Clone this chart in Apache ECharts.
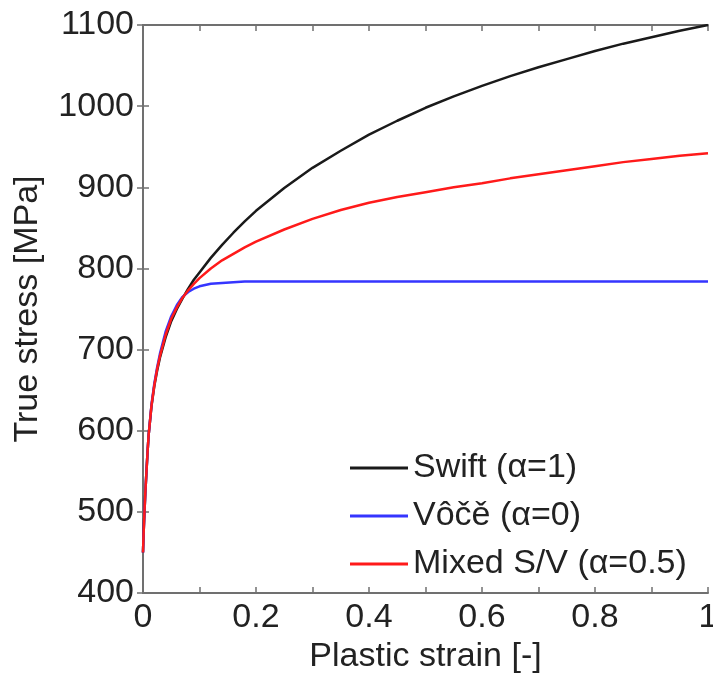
<!DOCTYPE html>
<html>
<head>
<meta charset="utf-8">
<script src="https://cdn.jsdelivr.net/npm/echarts@6/dist/echarts.min.js"></script>
<style>
html,body{margin:0;padding:0;background:#fff;}
#chart{width:713px;height:677px;}
</style>
</head>
<body>
<div id="chart"></div>
<script>
// Plastic strain values (x)
const strain = [0, 0.001, 0.002, 0.004, 0.006, 0.008, 0.01, 0.015, 0.02, 0.025, 0.03, 0.04, 0.05, 0.06, 0.07, 0.08, 0.09, 0.1, 0.12, 0.14, 0.16, 0.18, 0.2, 0.25, 0.3, 0.35, 0.4, 0.45, 0.5, 0.55, 0.6, 0.65, 0.7, 0.75, 0.8, 0.85, 0.9, 0.95, 1.0];
// True stress [MPa]
const swift = [450, 472, 490, 522, 548, 573, 595, 630, 655, 674, 690, 715, 735, 750, 763, 775, 786, 795, 813, 829, 844, 858, 871, 899, 924, 945, 965, 982, 998, 1012, 1025, 1037, 1048, 1058, 1068, 1077, 1085, 1093, 1100];
const voce  = [450, 472, 490, 522, 548, 573, 595, 632, 658, 678, 695, 722, 741, 755, 765, 771, 775, 778, 781, 782, 783, 784, 784, 784, 784, 784, 784, 784, 784, 784, 784, 784, 784, 784, 784, 784, 784, 784, 784];
const mixed = [450, 472, 490, 522, 548, 573, 595, 631, 656, 676, 692, 718, 738, 752, 764, 773, 781, 788, 800, 810, 818, 826, 833, 848, 861, 872, 881, 888, 894, 900, 905, 911, 916, 921, 926, 931, 935, 939, 942];
const seriesNames = ['Swift (α=1)', 'Vôčě (α=0)', 'Mixed S/V (α=0.5)'];
const seriesColors = ['#1a1a1a', '#3535ff', '#ff1a1a'];
const xTickLabels = ['0', '0.2', '0.4', '0.6', '0.8', '1'];
const yTickLabels = ['400', '500', '600', '700', '800', '900', '1000', '1100'];

const font = 'Liberation Sans, Arial, sans-serif';
const axisColor = '#707070';
const textColor = '#222';
const fs = 34;

function pairs(xs, ys) { return xs.map((x, i) => [x, ys[i]]); }

const chart = echarts.init(document.getElementById('chart'), null, {renderer: 'canvas'});
const seriesData = [swift, voce, mixed];

const option = {
  backgroundColor: '#fff',
  animation: false,
  grid: {left: 143, right: 5, top: 25, bottom: 84, containLabel: false, outerBoundsMode: 'none'},
  legend: {
    orient: 'vertical',
    left: 345,
    top: 446,
    itemWidth: 58,
    itemHeight: 3,
    itemGap: 14,
    icon: 'rect',
    data: seriesNames,
    textStyle: {fontFamily: font, fontSize: fs, color: textColor, padding: [0, 0, 0, 0]},
  },
  xAxis: [{
    type: 'value', min: 0, max: 1, interval: 0.1, position: 'bottom',
    name: 'Plastic strain [-]', nameLocation: 'middle', nameGap: 45,
    nameTextStyle: {fontFamily: font, fontSize: fs, color: textColor},
    axisLine: {show: true, lineStyle: {color: axisColor, width: 2}},
    axisTick: {show: true, inside: true, length: 6, lineStyle: {color: axisColor, width: 1.5}},
    axisLabel: {
      fontFamily: font, fontSize: fs, color: textColor, margin: 8,
      formatter: function (v) {
        const k = Math.round(v * 10);
        if (k % 2 !== 0) return '';
        return xTickLabels[k / 2];
      }
    },
    splitLine: {show: false}
  }, {
    type: 'value', min: 0, max: 1, interval: 0.1, position: 'top',
    axisLine: {show: true, lineStyle: {color: axisColor, width: 2}},
    axisTick: {show: true, inside: true, length: 6, lineStyle: {color: axisColor, width: 1.5}},
    axisLabel: {show: false}, splitLine: {show: false}
  }],
  yAxis: [{
    type: 'value', min: 400, max: 1100, interval: 100, position: 'left',
    name: 'True stress [MPa]', nameLocation: 'middle', nameGap: 98, nameRotate: 90,
    nameTextStyle: {fontFamily: font, fontSize: fs, color: textColor},
    axisLine: {show: true, lineStyle: {color: axisColor, width: 2}},
    axisTick: {show: true, inside: true, length: 6, lineStyle: {color: axisColor, width: 1.5}},
    axisLabel: {
      fontFamily: font, fontSize: fs, color: textColor, margin: 9,
      formatter: function (v) { return yTickLabels[Math.round((v - 400) / 100)]; }
    },
    splitLine: {show: false}
  }, {
    type: 'value', min: 400, max: 1100, interval: 100, position: 'right',
    axisLine: {show: true, lineStyle: {color: axisColor, width: 2}},
    axisTick: {show: true, inside: true, length: 6, lineStyle: {color: axisColor, width: 1.5}},
    axisLabel: {show: false}, splitLine: {show: false}
  }],
  series: seriesNames.map((name, i) => ({
    name: name,
    type: 'line',
    xAxisIndex: 0, yAxisIndex: 0,
    data: pairs(strain, seriesData[i]),
    showSymbol: false,
    smooth: false,
    lineStyle: {color: seriesColors[i], width: 2.5},
    itemStyle: {color: seriesColors[i]},
    z: i === 0 ? 2 : (i === 1 ? 3 : 4)
  }))
};
chart.setOption(option);
</script>
</body>
</html>
